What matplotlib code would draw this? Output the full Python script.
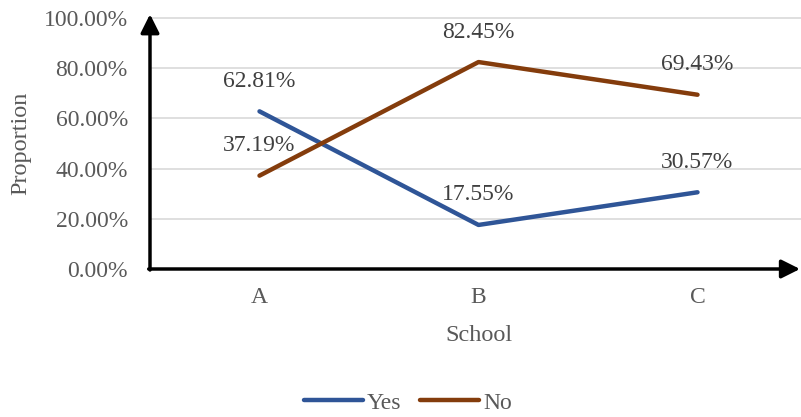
import matplotlib
matplotlib.use("Agg")
import matplotlib.pyplot as plt

categories = ["A", "B", "C"]
yes_vals = [0.6281, 0.1755, 0.3057]
no_vals = [0.3719, 0.8245, 0.6943]
yticks = [0.0, 0.2, 0.4, 0.6, 0.8, 1.0]
ytick_labels = ["0.00%", "20.00%", "40.00%", "60.00%", "80.00%", "100.00%"]

plt.rcParams['font.family'] = ['Liberation Serif', 'DejaVu Serif']

W, H = 801, 417
fig = plt.figure(figsize=(W / 100, H / 100), dpi=100)
ax = fig.add_axes([150 / W, 148 / H, 657 / W, 251 / H])

x = list(range(len(categories)))
ax.plot(x, yes_vals, color='#2F5597', lw=3.2, solid_capstyle='round', label='Yes', zorder=3)
ax.plot(x, no_vals, color='#843C0C', lw=3.2, solid_capstyle='round', label='No', zorder=3)

for xi, v in zip(x, yes_vals):
    ax.annotate(f"{v*100:.2f}%", (xi, v), xytext=(0, 30), textcoords='offset pixels',
                ha='center', va='center', fontsize=17, color='#404040')
for xi, v in zip(x, no_vals):
    ax.annotate(f"{v*100:.2f}%", (xi, v), xytext=(0, 30), textcoords='offset pixels',
                ha='center', va='center', fontsize=17, color='#404040')

ax.set_xlim(-0.5, 2.5)
ax.set_ylim(0, 1)
ax.set_xticks(x)
ax.set_xticklabels(categories)
ax.set_yticks(yticks)
ax.set_yticklabels(ytick_labels)
ax.tick_params(axis='both', length=0, labelsize=17, labelcolor='#595959')
ax.tick_params(axis='y', pad=16)
ax.tick_params(axis='x', pad=13)
for yv in yticks[1:]:
    ax.axhline(yv, color='#D9D9D9', lw=1.2, zorder=1, clip_on=False)
for s in ax.spines.values():
    s.set_visible(False)

ax.set_ylabel("Proportion", fontsize=17.5, color='#595959', labelpad=9)
ax.set_xlabel("School", fontsize=17.5, color='#595959', labelpad=12)

# axis arrows
arrow_style = '-|>,head_length=0.8,head_width=0.4'
ax.annotate('', xy=(0, 1.015), xytext=(0, -0.004), xycoords='axes fraction',
            arrowprops=dict(arrowstyle=arrow_style, lw=2.5, color='black',
                            shrinkA=0, shrinkB=0, mutation_scale=14), annotation_clip=False, zorder=5)
ax.annotate('', xy=((800 - 150) / 657, 0), xytext=(-0.002, 0), xycoords='axes fraction',
            arrowprops=dict(arrowstyle=arrow_style, lw=2.5, color='black',
                            shrinkA=0, shrinkB=0, mutation_scale=14), annotation_clip=False, zorder=5)

fig.legend(loc='center', bbox_to_anchor=(408 / W, 1 - 403 / H), ncol=2, frameon=False,
           fontsize=17, handlelength=2.5, handletextpad=0.15, columnspacing=0.8,
           labelcolor='#595959')

fig.savefig("out.png", dpi=100)
